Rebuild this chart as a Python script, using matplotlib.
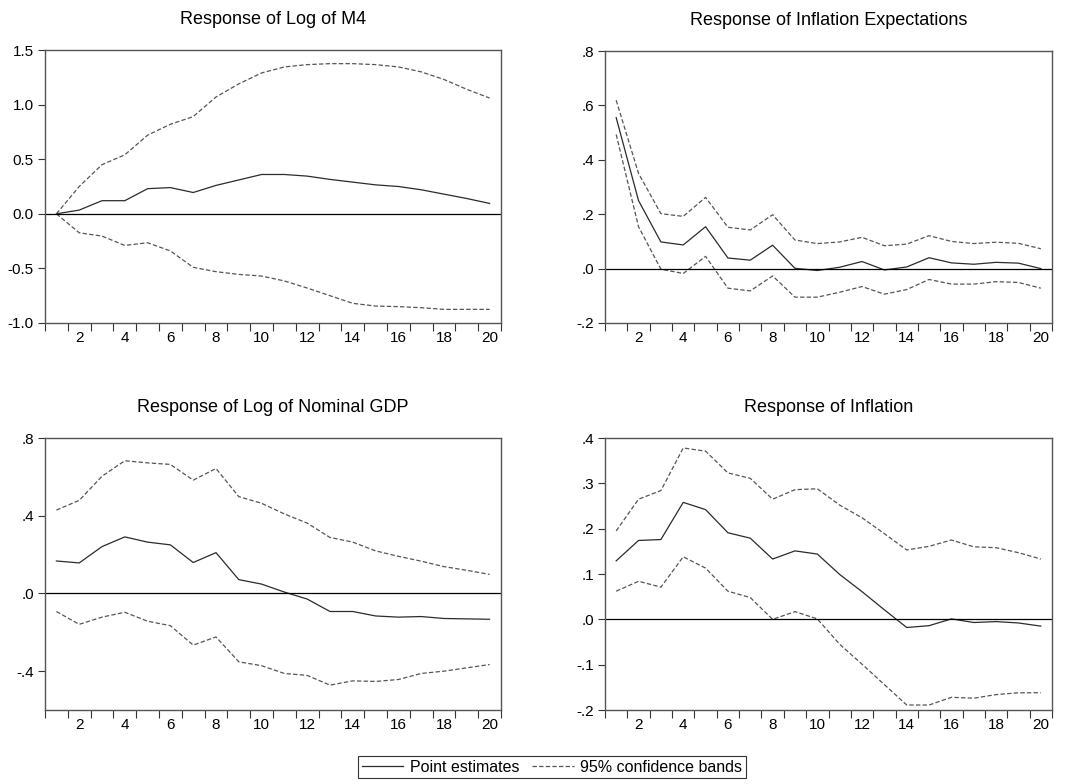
import matplotlib
matplotlib.use('Agg')
import matplotlib.pyplot as plt
from matplotlib.lines import Line2D

plt.rcParams['font.family'] = ['Liberation Sans', 'DejaVu Sans']

# impulse response periods
periods = list(range(1, 21))

# Response of Log of M4
m4_point = [0.0, 0.034, 0.12, 0.12, 0.23, 0.24, 0.195, 0.26, 0.31, 0.36,
            0.36, 0.345, 0.315, 0.29, 0.265, 0.25, 0.22, 0.18, 0.14, 0.095]
m4_upper = [0.0, 0.25, 0.45, 0.54, 0.72, 0.82, 0.89, 1.07, 1.19, 1.29,
            1.345, 1.366, 1.375, 1.375, 1.366, 1.345, 1.30, 1.23, 1.14, 1.06]
m4_lower = [0.0, -0.174, -0.204, -0.29, -0.265, -0.34, -0.49, -0.53, -0.555, -0.57,
            -0.615, -0.68, -0.75, -0.82, -0.845, -0.85, -0.86, -0.875, -0.875, -0.875]

# Response of Inflation Expectations
exp_point = [0.555, 0.25, 0.098, 0.087, 0.154, 0.039, 0.031, 0.086, 0.001, -0.007,
             0.005, 0.026, -0.005, 0.006, 0.04, 0.021, 0.016, 0.023, 0.02, 0.0]
exp_upper = [0.619, 0.35, 0.202, 0.192, 0.262, 0.152, 0.142, 0.198, 0.105, 0.092,
             0.098, 0.115, 0.084, 0.09, 0.121, 0.1, 0.092, 0.097, 0.093, 0.073]
exp_lower = [0.493, 0.154, -0.002, -0.018, 0.045, -0.072, -0.082, -0.027, -0.105, -0.105,
             -0.087, -0.066, -0.094, -0.077, -0.04, -0.057, -0.057, -0.048, -0.051, -0.072]

# Response of Log of Nominal GDP
gdp_point = [0.167, 0.157, 0.241, 0.291, 0.264, 0.25, 0.159, 0.21, 0.071, 0.048,
             0.007, -0.029, -0.093, -0.093, -0.116, -0.122, -0.119, -0.129, -0.131, -0.133]
gdp_upper = [0.429, 0.479, 0.603, 0.683, 0.672, 0.664, 0.583, 0.643, 0.498, 0.464,
             0.409, 0.362, 0.288, 0.264, 0.219, 0.191, 0.166, 0.138, 0.119, 0.098]
gdp_lower = [-0.093, -0.159, -0.122, -0.097, -0.143, -0.166, -0.266, -0.224, -0.352, -0.372,
             -0.412, -0.422, -0.472, -0.45, -0.453, -0.443, -0.412, -0.4, -0.383, -0.366]

# Response of Inflation
inf_point = [0.129, 0.174, 0.176, 0.258, 0.242, 0.191, 0.179, 0.133, 0.151, 0.144,
             0.099, 0.061, 0.021, -0.018, -0.014, 0.001, -0.007, -0.005, -0.008, -0.015]
inf_upper = [0.195, 0.265, 0.284, 0.378, 0.371, 0.323, 0.311, 0.265, 0.286, 0.288,
             0.252, 0.224, 0.189, 0.153, 0.161, 0.175, 0.16, 0.158, 0.147, 0.133]
inf_lower = [0.062, 0.084, 0.071, 0.138, 0.113, 0.062, 0.048, 0.0, 0.017, 0.001,
             -0.055, -0.099, -0.144, -0.189, -0.189, -0.172, -0.174, -0.166, -0.162, -0.162]

titles = ['Response of Log of M4', 'Response of Inflation Expectations',
          'Response of Log of Nominal GDP', 'Response of Inflation']
ylims = [(-1.0, 1.5), (-0.2, 0.8), (-0.6, 0.8), (-0.2, 0.4)]
yticks = [[-1.0, -0.5, 0.0, 0.5, 1.0, 1.5],
          [-0.2, 0.0, 0.2, 0.4, 0.6, 0.8],
          [-0.4, 0.0, 0.4, 0.8],
          [-0.2, -0.1, 0.0, 0.1, 0.2, 0.3, 0.4]]
ytick_labels = [['-1.0', '-0.5', '0.0', '0.5', '1.0', '1.5'],
                ['-.2', '.0', '.2', '.4', '.6', '.8'],
                ['-.4', '.0', '.4', '.8'],
                ['-.2', '-.1', '.0', '.1', '.2', '.3', '.4']]
xtick_labels = ['2', '4', '6', '8', '10', '12', '14', '16', '18', '20']
series = [(m4_point, m4_upper, m4_lower), (exp_point, exp_upper, exp_lower),
          (gdp_point, gdp_upper, gdp_lower), (inf_point, inf_upper, inf_lower)]

W, H = 1073, 784
fig = plt.figure(figsize=(W / 100, H / 100), dpi=100)
# axes boxes in pixels: left, top, right, bottom
boxes = [(45, 50, 501, 323), (605, 51, 1052, 323),
         (45, 438, 501, 710), (605, 438, 1052, 710)]

solid_c = '#2b2b2b'
dash_c = '#555555'

for i in range(4):
    l, t, r, b = boxes[i]
    ax = fig.add_axes([l / W, 1 - b / H, (r - l) / W, (b - t) / H])
    point, upper, lower = series[i]
    ax.plot(periods, point, color=solid_c, lw=0.9)
    ax.plot(periods, upper, color=dash_c, lw=0.9, dashes=(3.5, 1.8))
    ax.plot(periods, lower, color=dash_c, lw=0.9, dashes=(3.5, 1.8))
    ax.axhline(0, color='black', lw=0.9)
    ax.set_xlim(0.5, 20.5)
    ax.set_ylim(*ylims[i])
    ax.set_yticks(yticks[i])
    ax.set_yticklabels(ytick_labels[i])
    # tick marks sit between periods, labels at the even periods
    ax.set_xticks([k + 0.5 for k in range(0, 21)])
    ax.set_xticklabels([])
    ax.set_xticks(list(range(2, 21, 2)), minor=True)
    ax.set_xticklabels(xtick_labels, minor=True)
    ax.tick_params(axis='x', which='major', length=6, width=0.8, direction='out', color='#333333')
    ax.tick_params(axis='x', which='minor', length=0, labelsize=11, pad=6)
    ax.tick_params(axis='y', length=5, width=0.8, direction='out', labelsize=11, pad=3,
                   color='#333333')
    for s in ax.spines.values():
        s.set_color('#555555')
        s.set_linewidth(1.0)
    ax.set_title(titles[i], fontsize=13, pad=19)

handles = [Line2D([], [], color=solid_c, lw=0.9),
           Line2D([], [], color=dash_c, lw=0.9, dashes=(3.5, 1.8))]
leg = fig.legend(handles, ['Point estimates', '95% confidence bands'],
                 loc='center', bbox_to_anchor=(552 / W, 1 - 767 / H), ncol=2,
                 fontsize=11.5, fancybox=False, edgecolor='#333333', framealpha=1,
                 handlelength=2.6, handletextpad=0.4, columnspacing=0.8,
                 borderpad=0.25, borderaxespad=0)
leg.get_frame().set_linewidth(0.8)

plt.savefig('out.png', dpi=100)
